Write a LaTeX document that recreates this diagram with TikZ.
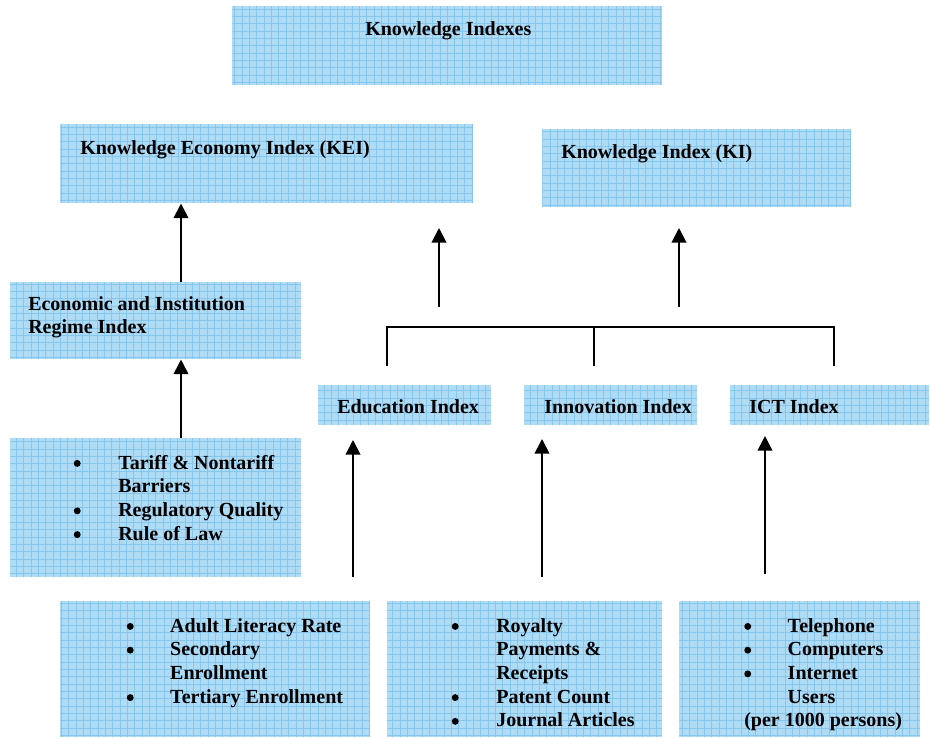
\documentclass[tikz,border=0pt]{standalone}
\usepackage{fontspec}
\setmainfont{Liberation Serif}
\usetikzlibrary{arrows.meta}
\definecolor{boxfill}{RGB}{176,219,245}
\definecolor{gridc}{RGB}{132,198,238}
\newcommand\bul{\tikz[baseline=-0.28em]\fill (0,0) circle (2.6pt);}
\begin{document}
\begin{tikzpicture}[x=0.75pt,y=-0.75pt,
  box/.style={rectangle, fill=boxfill, draw=none, inner sep=0pt, anchor=north west,
    path picture={\draw[gridc, line width=0.45pt, step=5.5pt] (path picture bounding box.south west) grid (path picture bounding box.north east);}},
  lbl/.style={inner sep=0pt, anchor=base west, font=\fontsize{15}{17.8}\selectfont\bfseries},
  arr/.style={line width=1.4pt, -{Triangle[length=11pt,width=11pt]}},
  brk/.style={line width=1.1pt}]
\useasboundingbox (0,0) rectangle (930,738);
% boxes
\node[box, minimum width=322.5pt, minimum height=59.25pt] (top) at (232,6) {};
\node[box, minimum width=309.75pt, minimum height=59.25pt] (kei) at (60,124) {};
\node[box, minimum width=231.75pt, minimum height=58.5pt] (ki) at (542,129) {};
\node[box, minimum width=218.25pt, minimum height=57.75pt] (econ) at (10,282) {};
\node[box, minimum width=218.25pt, minimum height=104.25pt] (regime) at (10,438) {};
\node[box, minimum width=129.75pt, minimum height=30pt] (edu) at (318,385) {};
\node[box, minimum width=129.75pt, minimum height=30pt] (inno) at (524,385) {};
\node[box, minimum width=149.25pt, minimum height=30pt] (ict) at (730,385) {};
\node[box, minimum width=232.5pt, minimum height=102pt] (edul) at (60,601) {};
\node[box, minimum width=206.25pt, minimum height=102pt] (innol) at (387,601) {};
\node[box, minimum width=180.75pt, minimum height=102pt] (ictl) at (679,601) {};
% texts
\node[lbl] (ttop) at (365,36) {Knowledge Indexes};
\node[lbl] (tkei) at (80,154) {Knowledge Economy Index (KEI)};
\node[lbl] (tki) at (561,158) {Knowledge Index (KI)};
\node[lbl] (tecon) at (28,310) {\begin{tabular}[t]{@{}l@{}}Economic and Institution\\Regime Index\end{tabular}};
\node[lbl] (tedu) at (337,413) {Education Index};
\node[lbl] (tinno) at (544,413) {Innovation Index};
\node[lbl] (tict) at (749,413) {ICT Index};
\node[lbl] (lreg) at (73.5,469) {\begin{tabular}[t]{@{}p{33.4pt}@{}l@{}}\bul & Tariff \& Nontariff\\ & Barriers\\ \bul & Regulatory Quality\\ \bul & Rule of Law\end{tabular}};
\node[lbl] (ledu) at (126.5,632) {\begin{tabular}[t]{@{}p{32.6pt}@{}l@{}}\bul & Adult Literacy Rate\\ \bul & Secondary\\ & Enrollment\\ \bul & Tertiary Enrollment\end{tabular}};
\node[lbl] (linno) at (451.5,632) {\begin{tabular}[t]{@{}p{33.4pt}@{}l@{}}\bul & Royalty\\ & Payments \&\\ & Receipts\\ \bul & Patent Count\\ \bul & Journal Articles\end{tabular}};
\node[lbl] (lict) at (744,632) {\begin{tabular}[t]{@{}p{32.6pt}@{}l@{}}\bul & Telephone\\ \bul & Computers\\ \bul & Internet\\ & Users\\ \multicolumn{2}{@{}l@{}}{(per 1000 persons)}\end{tabular}};
% connectors
\coordinate (cL) at (181,0);
\draw[arr] (econ.north -| cL) -- (kei.south -| cL);
\draw[arr] (regime.north -| cL) -- (econ.south -| cL);
\coordinate (a1s) at (439,307); \coordinate (a1e) at (439,228);
\coordinate (a2s) at (679,307); \coordinate (a2e) at (679,228);
\draw[arr] (a1s) -- (a1e);
\draw[arr] (a2s) -- (a2e);
\coordinate (bh) at (0,327);
\coordinate (b1) at (387,366); \coordinate (b2) at (594,366); \coordinate (b3) at (834,366);
\draw[brk] (b1) -- (b1 |- bh) -- (b3 |- bh) -- (b3);
\draw[brk] (b2) -- (b2 |- bh);
\coordinate (d1s) at (353,577); \coordinate (d1e) at (353,440);
\coordinate (d2s) at (542,577); \coordinate (d2e) at (542,439);
\coordinate (d3s) at (765,574); \coordinate (d3e) at (765,436);
\draw[arr] (d1s) -- (d1e);
\draw[arr] (d2s) -- (d2e);
\draw[arr] (d3s) -- (d3e);
\end{tikzpicture}
\end{document}
